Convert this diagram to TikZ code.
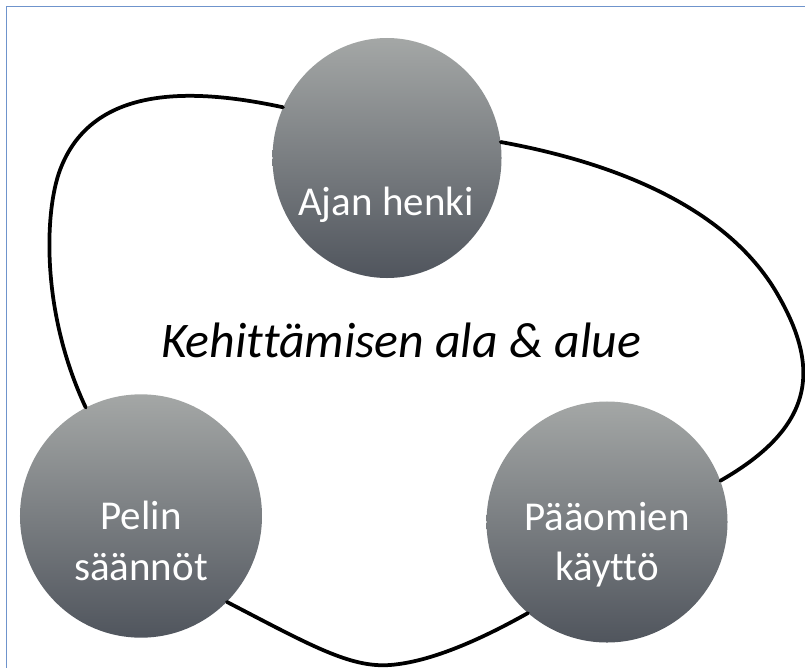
\documentclass[tikz,border=0pt]{standalone}
\usepackage{fontspec}
\setmainfont[Ligatures=NoCommon]{Carlito}
\usetikzlibrary{shapes.geometric}
\definecolor{frameblue}{RGB}{111,148,204}
\definecolor{balltop}{RGB}{164,167,166}
\definecolor{ballbottom}{RGB}{80,85,93}

\begin{document}
\begin{tikzpicture}[x=0.03cm,y=-0.03cm,
  ball/.style={ellipse, inner sep=0pt, top color=balltop, bottom color=ballbottom},
  balltext/.style={text=white, font=\fontsize{35}{43}\selectfont, align=center},
  loopline/.style={line width=3.2pt, line cap=round}]
\useasboundingbox (0,0) rectangle (805,668);
\draw[frameblue, line width=1.3pt] (6.5,6.5) rectangle (840,700);
% the three balls
\node[ball, minimum width=6.87cm, minimum height=7.2cm] (ajan) at (387,158) {};
\node[ball, minimum width=7.26cm, minimum height=7.3cm] (pelin) at (141,516) {};
\node[ball, minimum width=7.23cm, minimum height=7.23cm] (paaomat) at (607,522) {};
\node[balltext, anchor=base] (ajanteksti) at (386,215) {Ajan henki};
\node[balltext] (pelinteksti) at (141,541) {Pelin\\säännöt};
\node[balltext] (paaomateksti) at (607,545) {Pääomien\\käyttö};
\node[font=\itshape\fontsize{42.5}{50}\selectfont, anchor=base] (ala) at (401,357) {Kehittämisen ala \& alue};
% the loop round them
\draw[loopline] (ajan.154) .. controls (180,85) and (90,90) .. (60,170)
  .. controls (45,210) and (40,310) .. (pelin.117);
\draw[loopline] (ajan.8) .. controls (600,160) and (720,200) .. (775,290)
  .. controls (820,365) and (818,425) .. (paaomat.20);
\draw[loopline] (pelin.-45) .. controls (310,645) and (350,668) .. (390,665)
  .. controls (430,662) and (480,640) .. (paaomat.-131);
\end{tikzpicture}
\end{document}
